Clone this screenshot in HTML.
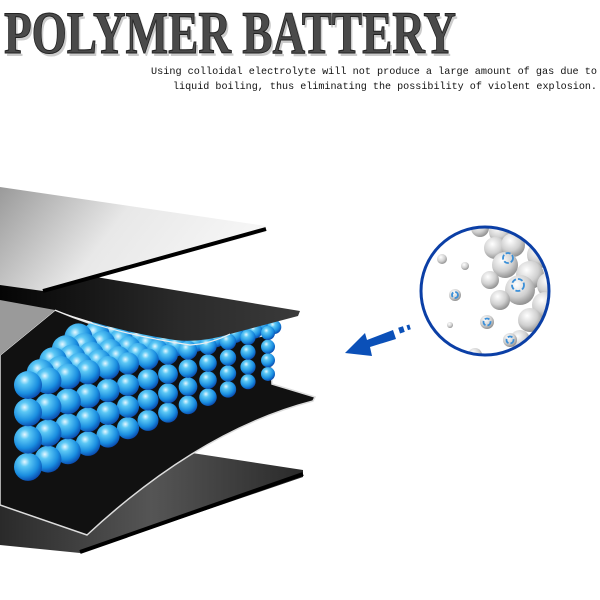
<!DOCTYPE html>
<html><head><meta charset="utf-8"><style>
html,body{margin:0;padding:0;background:#fff;width:600px;height:600px;overflow:hidden}
</style></head><body>
<svg id="s" width="600" height="600" viewBox="0 0 600 600" xmlns="http://www.w3.org/2000/svg">
<defs>
<linearGradient id="gl" x1="0" y1="0" x2="1" y2="0.3"><stop offset="0" stop-color="#9a9a9a"/><stop offset="0.5" stop-color="#e8e8e8"/><stop offset="1" stop-color="#f6f6f6"/></linearGradient>
<linearGradient id="gd" x1="0" y1="0" x2="1" y2="0"><stop offset="0" stop-color="#050505"/><stop offset="0.6" stop-color="#2a2a2a"/><stop offset="1" stop-color="#3a3a3a"/></linearGradient>
<linearGradient id="gb" x1="0" y1="0" x2="1" y2="0"><stop offset="0" stop-color="#2a2a2a"/><stop offset="0.5" stop-color="#555"/><stop offset="1" stop-color="#2a2a2a"/></linearGradient>
<radialGradient id="ball" cx="0.38" cy="0.32" r="0.7"><stop offset="0" stop-color="#e8f8ff"/><stop offset="0.25" stop-color="#5cc8f5"/><stop offset="0.7" stop-color="#1a8ee0"/><stop offset="1" stop-color="#0a4cb0"/></radialGradient>
<radialGradient id="gball" cx="0.38" cy="0.32" r="0.7"><stop offset="0" stop-color="#fff"/><stop offset="0.6" stop-color="#d0d0d0"/><stop offset="1" stop-color="#909090"/></radialGradient>
<clipPath id="cc"><circle cx="485" cy="291" r="64"/></clipPath>
</defs>
<text x="4" y="53" font-family="Liberation Serif, serif" font-weight="bold" font-size="60" fill="#ccc" textLength="452" lengthAdjust="spacingAndGlyphs" transform="translate(2,3)">POLYMER BATTERY</text>
<text x="4" y="53" font-family="Liberation Serif, serif" font-weight="bold" font-size="60" fill="#4a4a4a" stroke="#222" stroke-width="1" textLength="452" lengthAdjust="spacingAndGlyphs">POLYMER BATTERY</text>
<text x="597" y="74" text-anchor="end" font-family="Liberation Mono, monospace" font-size="10.5" fill="#111" textLength="446" lengthAdjust="spacingAndGlyphs">Using colloidal electrolyte will not produce a large amount of gas due to</text>
<text x="597" y="89" text-anchor="end" font-family="Liberation Mono, monospace" font-size="10.5" fill="#111" textLength="424" lengthAdjust="spacingAndGlyphs">liquid boiling, thus eliminating the possibility of violent explosion.</text>

<!-- bottom sheet -->
<path d="M0,455 L140,445 L303,470 L303,477 L80,553 L0,545 Z" fill="url(#gb)"/>
<path d="M303,474 L80,552" stroke="#000" stroke-width="4"/>
<!-- separator -->
<path d="M55,310 Q120,338 190,346 L270,335 L272,384 L315,397 L313,401 Q200,430 87,535 L0,505 L0,355 Z" fill="#111" stroke="#ddd" stroke-width="1.5"/>
<!-- balls -->
<g id="balls"></g>
<!-- dark sheet -->
<path d="M0,268 L90,276 L300,311 L298,316 L230,334 Q200,343 175,340 Q110,330 55,310 L0,355 Z" fill="url(#gd)"/>
<path d="M0,300 L55,310 L0,355 Z" fill="#9a9a9a"/>
<path d="M55,310 Q110,333 190,345 Q210,344 230,334" stroke="#eee" stroke-width="1.2" fill="none"/>
<!-- top light sheet -->
<path d="M0,187 L266,226 L266,232 L43,291 L0,285 Z" fill="url(#gl)"/>
<path d="M266,229 L43,291" stroke="#000" stroke-width="4"/>

<!-- inset -->
<g clip-path="url(#cc)">
<circle cx="485" cy="291" r="64" fill="#fff"/>
<g id="gray"></g>
</g>
<circle cx="485" cy="291" r="64" fill="none" stroke="#0b3fa6" stroke-width="3"/>
<path d="M345,353 L365,333 L367,340 L393,330 L396,339 L370,347 L372,356 Z" fill="#0b50b8"/>
<rect x="399" y="327" width="5" height="6" fill="#0b50b8" transform="rotate(-18 401 330)"/>
<rect x="407" y="325" width="3" height="5" fill="#0b50b8" transform="rotate(-18 408 327)"/>
</svg>
<script>
var ns="http://www.w3.org/2000/svg";
function c(g,x,y,r,f){var e=document.createElementNS(ns,"circle");e.setAttribute("cx",x);e.setAttribute("cy",y);e.setAttribute("r",r);e.setAttribute("fill",f);g.appendChild(e);}
var g=document.getElementById("balls");
for(var k=4;k>=0;k--){
 for(var i=12;i>=0;i--){
  var t=i/12, r=14-7*t, x=28+240*t+k*r*0.9, yt=385-52*t-k*r*0.85;
  var rows=(k==0)?4:1;
  for(var j=rows-1;j>=0;j--){ if(k>0 && x>275) continue; c(g,x,yt+j*r*1.95,r,"url(#ball)");}
 }
}
var gg=document.getElementById("gray");
var big=[[480,228,9],[500,232,11],[525,228,12],[548,238,12],[540,255,13],[560,262,12],[495,248,11],[513,245,12],[530,275,14],[550,285,13],[505,265,13],[520,290,15],[545,305,13],[560,320,12],[500,300,10],[530,320,12],[550,340,12],[520,340,10],[490,280,9]];
big.forEach(function(a){c(gg,a[0],a[1],a[2],"url(#gball)");});
[[442,259,5],[465,266,4],[455,295,6],[450,325,3],[487,322,7],[510,340,7],[475,355,7]].forEach(function(a){c(gg,a[0],a[1],a[2],"url(#gball)");});
[[508,258,5],[518,285,6],[455,295,3],[487,322,3.5],[510,340,3.5]].forEach(function(a){var e=document.createElementNS(ns,"circle");e.setAttribute("cx",a[0]);e.setAttribute("cy",a[1]);e.setAttribute("r",a[2]);e.setAttribute("fill","none");e.setAttribute("stroke","#3a8fd8");e.setAttribute("stroke-width","1.8");e.setAttribute("stroke-dasharray","5 2");gg.appendChild(e);});
</script>
</body></html>
